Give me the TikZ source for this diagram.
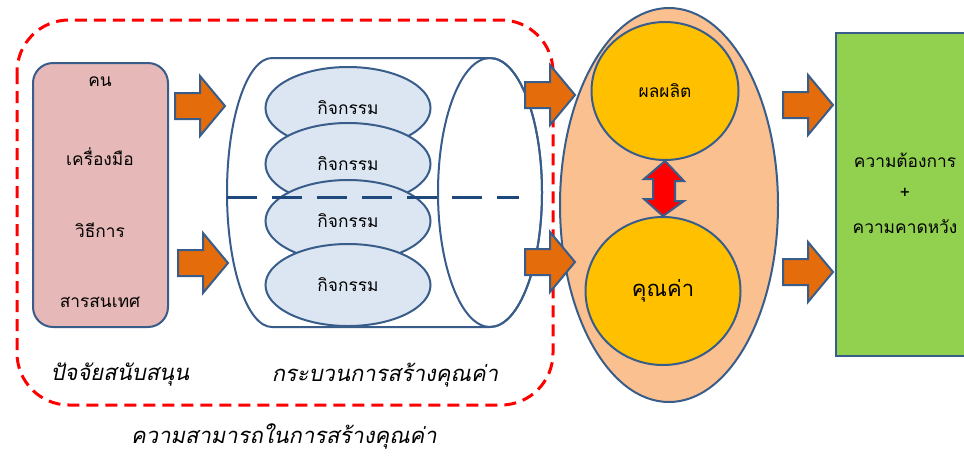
\documentclass[tikz,border=0pt]{standalone}
\usepackage{fontspec}
\usetikzlibrary{shapes.geometric}
\newfontfamily\thai[Script=Thai]{Loma}
\newfontfamily\thaiit[Script=Thai,FakeSlant=0.2]{Loma}
\definecolor{edgeblue}{HTML}{385D8A}
\definecolor{lineblue}{HTML}{1F497D}
\definecolor{pinkfill}{HTML}{E6B8B7}
\definecolor{actfill}{HTML}{DCE6F2}
\definecolor{arrowfill}{HTML}{E46C0A}
\definecolor{peach}{HTML}{FAC090}
\definecolor{gold}{HTML}{FFC000}
\definecolor{leaf}{HTML}{92D050}
\def\px{0.75pt}
\tikzset{
  outline/.style={draw=edgeblue, line width=2*\px},
  txt/.style={font=\thai\fontsize{13}{15}\selectfont, inner sep=0pt},
  bigit/.style={font=\thaiit\fontsize{16.5}{20}\selectfont, inner sep=0pt},
  activity/.style={outline, ellipse, fill=actfill, minimum width=165*\px, minimum height=82*\px, inner sep=0pt, txt},
  goldcircle/.style={outline, ellipse, fill=gold, inner sep=0pt},
  blockarrow/.pic={\draw[outline, fill=arrowfill]
      (-50,-13) -- (-25,-13) -- (-25,-30) -- (0,0) -- (-25,30) -- (-25,13) -- (-50,13) -- cycle;}
}
\begin{document}
\begin{tikzpicture}[x=\px, y=-\px]
\useasboundingbox (0,0) rectangle (964,455);
\clip (0,0) rectangle (964,455);

% dashed frame around the value-creation capability
\draw[red, line width=3*\px, dash pattern=on 12*\px off 7*\px, rounded corners=52*\px]
  (17,20) rectangle (553,405);

% supporting factors box
\node[outline, rounded corners=20*\px, fill=pinkfill, minimum width=135*\px, minimum height=264*\px]
  (factors) at (100.5,195) {};
\node[txt] (f1) at (100,82) {คน};
\node[txt] (f2) at (100,157) {เครื่องมือ};
\node[txt] (f3) at (100,230) {วิธีการ};
\node[txt] (f4) at (100,302) {สารสนเทศ};

% process cylinder (lying on its side), elliptic ends built from quarter curves
\coordinate (cylTL) at (272,58);
\coordinate (cylBL) at (272,327);
\coordinate (cylL)  at (227,192.5);
\coordinate (cylTR) at (490,58);
\coordinate (cylBR) at (490,327);
\coordinate (cylR)  at (542,192.5);
\draw[outline, fill=white]
  (cylTR) -- (cylTL)
  .. controls (247.1,58) and (227,118.2) .. (cylL)
  .. controls (227,266.8) and (247.1,327) .. (cylBL)
  -- (cylBR)
  .. controls (518.7,327) and (542,266.8) .. (cylR)
  .. controls (542,118.2) and (518.7,58) .. (cylTR) -- cycle;
\node[outline, ellipse, minimum width=104*\px, minimum height=269*\px, inner sep=0pt]
  (cylcap) at (490,192.5) {};

\node[activity] (a1) at (348,108) {กิจกรรม};
\node[activity] (a2) at (348,164) {กิจกรรม};
\node[activity] (a3) at (348,221) {กิจกรรม};
\node[activity] (a4) at (348,285) {กิจกรรม};

\coordinate (dashL) at (227,197);
\coordinate (dashR) at (519,197);
\draw[lineblue, line width=3*\px, dash pattern=on 30*\px off 15*\px] (dashL) -- (dashR);

% outcome ellipse
\node[outline, ellipse, fill=peach, minimum width=218*\px, minimum height=394*\px, inner sep=0pt]
  (outcome) at (669,205) {};
\node[goldcircle, minimum width=147*\px, minimum height=138*\px, txt] (product) at (665,91) {ผลผลิต};
\node[goldcircle, minimum width=155*\px, minimum height=148*\px,
  font=\thai\fontsize{16.5}{20}\selectfont] (value) at (663,291) {คุณค่า};

% two-way arrow between product and value
\draw[outline, fill=red]
  (product.south) -- ++(19,20) -- ++(-9,0) -- ++(0,20) -- ++(9,0) -- (value.north)
  -- ++(-19,-17) -- ++(9,0) -- ++(0,-20) -- ++(-9,0) -- cycle;

% needs and expectations
\node[outline, fill=leaf, minimum width=140*\px, minimum height=323*\px, anchor=north west]
  (needs) at (835,32) {};
\node[txt] (n1) at (905,160) {ความต้องการ};
\node[txt] (n2) at (905,193) {+};
\node[txt] (n3) at (905,227) {ความคาดหวัง};

% block arrows
\pic at (225,106) {blockarrow};
\pic at (228,263) {blockarrow};
\pic at (575,95) {blockarrow};
\pic at (575,262) {blockarrow};
\pic at (833,105) {blockarrow};
\pic at (833,272) {blockarrow};

% captions
\node[bigit] (cap1) at (120,375) {ปัจจัยสนับสนุน};
\node[bigit] (cap2) at (385,375) {กระบวนการสร้างคุณค่า};
\node[bigit] (cap3) at (284,436) {ความสามารถในการสร้างคุณค่า};
\end{tikzpicture}
\end{document}
